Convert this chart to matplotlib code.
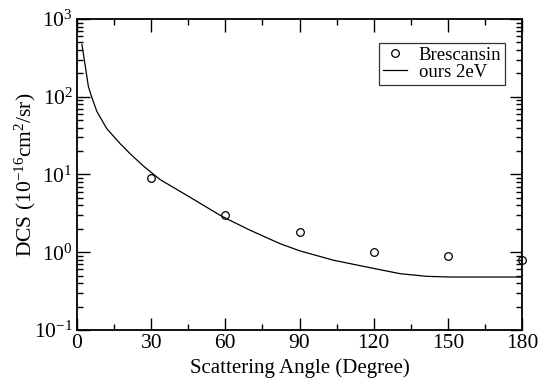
import math
import matplotlib
matplotlib.use("Agg")
import matplotlib.pyplot as plt
from matplotlib.ticker import FixedLocator, LogLocator, FuncFormatter, NullFormatter

plt.rcParams['font.family'] = ['Liberation Serif', 'DejaVu Serif']
plt.rcParams['mathtext.fontset'] = 'custom'
plt.rcParams['mathtext.rm'] = 'Liberation Serif'
plt.rcParams['mathtext.it'] = 'Liberation Serif:italic'
plt.rcParams['mathtext.bf'] = 'Liberation Serif:bold'

# Experimental points (Brescansin)
exp_angle = [30, 60, 90, 120, 150, 180]
exp_dcs = [9.0, 3.0, 1.8, 1.0, 0.89, 0.80]

# Calculated DCS at 2 eV
calc_angle = [2.0, 4.6, 5.9, 8.0, 12.0, 17.4, 21.4, 26.8, 33.6, 45.7, 57.8, 61.9,
              70.0, 82.1, 90.2, 103.7, 119.9, 130.7, 141.5, 150.9, 165.0, 180.0]
calc_dcs = [470, 135, 100, 65, 39, 25, 18.6, 12.9, 8.6, 5.1, 3.0, 2.57,
            1.92, 1.29, 1.04, 0.79, 0.62, 0.53, 0.49, 0.48, 0.48, 0.48]

fig = plt.figure(figsize=(5.39, 3.79), dpi=100)
ax = fig.add_axes([0.1429, 0.1293, 0.8256, 0.8206])

ax.plot(calc_angle, calc_dcs, color='black', lw=0.9, label='ours 2eV')
ax.plot(exp_angle, exp_dcs, linestyle='none', marker='o', markersize=5.5,
        markerfacecolor='none', markeredgecolor='black', markeredgewidth=0.9,
        label='Brescansin', clip_on=False, zorder=5)

ax.set_yscale('log')
ax.set_xlim(0, 180)
ax.set_ylim(0.1, 1000)

ax.xaxis.set_major_locator(FixedLocator([0, 30, 60, 90, 120, 150, 180]))
ax.xaxis.set_minor_locator(FixedLocator([15, 45, 75, 105, 135, 165]))
ax.yaxis.set_major_locator(LogLocator(base=10, numticks=10))
ax.yaxis.set_minor_locator(LogLocator(base=10, subs=range(2, 10), numticks=10))
ax.yaxis.set_minor_formatter(NullFormatter())
ax.yaxis.set_major_formatter(FuncFormatter(lambda v, p: r'$10^{%d}$' % round(math.log10(v))))

ax.tick_params(which='both', direction='in', top=True, right=True, labelsize=15.5, width=1.0)
ax.tick_params(which='major', length=9)
ax.tick_params(which='minor', length=4.5)
ax.tick_params(axis='x', pad=3)
ax.tick_params(axis='y', pad=3)
for s in ax.spines.values():
    s.set_linewidth(1.3)

ax.set_xlabel('Scattering Angle (Degree)', fontsize=15, labelpad=4)
ax.set_ylabel(r'DCS (10$^{-16}$cm$^{2}$/sr)', fontsize=15.5)
ax.yaxis.set_label_coords(-0.088, 0.5)

handles, labels = ax.get_legend_handles_labels()
leg = ax.legend(handles[::-1], labels[::-1], loc='upper right',
                bbox_to_anchor=(0.962, 0.923), fontsize=13.5, frameon=True,
                fancybox=False, edgecolor='black', borderpad=0.2,
                handlelength=1.3, handletextpad=0.6, labelspacing=0.0,
                borderaxespad=0)
leg.get_frame().set_linewidth(0.9)

fig.savefig('out.png', dpi=100)
